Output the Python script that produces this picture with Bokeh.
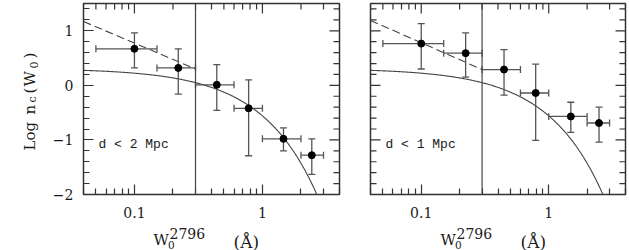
import numpy as np
from bokeh.plotting import figure
from bokeh.layouts import row, column
from bokeh.models import FixedTicker, Span, Label, CustomJSTickFormatter
from bokeh.embed import file_html
from bokeh.resources import INLINE

# ---------------- data ----------------
bin_lo = [0.05, 0.15, 0.30, 0.60, 1.00, 2.00]
bin_hi = [0.15, 0.30, 0.60, 1.00, 2.00, 3.00]

w_2mpc = [0.10, 0.22, 0.44, 0.78, 1.46, 2.43]
logn_2mpc = [0.67, 0.32, 0.01, -0.42, -0.98, -1.28]
logn_2mpc_lo = [0.32, -0.16, -0.46, -1.29, -1.20, -1.63]
logn_2mpc_hi = [0.96, 0.67, 0.38, 0.10, -0.78, -0.98]

w_1mpc = [0.10, 0.223, 0.446, 0.79, 1.49, 2.48]
logn_1mpc = [0.765, 0.59, 0.29, -0.14, -0.57, -0.69]
logn_1mpc_lo = [0.30, 0.15, -0.18, -1.01, -0.86, -1.04]
logn_1mpc_hi = [1.13, 0.96, 0.655, 0.39, -0.31, -0.40]

# exponential fit:  log n_c = log N* - W / (W* ln 10)
fit_logn0 = 0.31
fit_wstar = 0.50
# power-law extension below the completeness limit
dash_w = [0.04, 0.30]
dash_logn_2mpc = [1.17, 0.30]
dash_logn_1mpc = [1.19, 0.29]
w_limit = 0.3

x_major = [0.1, 1]
x_minor = [0.04, 0.05, 0.06, 0.07, 0.08, 0.09,
           0.2, 0.3, 0.4, 0.5, 0.6, 0.7, 0.8, 0.9, 2, 3, 4]
y_major = [-2, -1, 0, 1]
y_minor = [-1.8, -1.6, -1.4, -1.2, -0.8, -0.6, -0.4, -0.2,
           0.2, 0.4, 0.6, 0.8, 1.2, 1.4]

inset_2mpc = "d < 2 Mpc"
inset_1mpc = "d < 1 Mpc"

# ---------------- layout / style ----------------
X_RANGE = (0.04, 4.0)
Y_RANGE = (-2.0, 1.5)
H_TOP = 225          # height of the panel row
H_XLAB = 25          # strip carrying the x-axis titles
YLAB_W = 40          # strip carrying the y-axis title
FT = 3
FB = H_TOP - 194
FRAME = "#333333"
BAR = "#555555"
CURVE = "#444444"
TXT = "#1a1a1a"
SERIF = "DejaVu Serif"
MAJ, MIN = 10, 6


def canvas_label(p, text, cx, cy, size, font=SERIF, angle=0.0):
    p.add_layout(Label(x=cx, y=cy, x_units="canvas", y_units="canvas",
                       text=text, angle=angle, text_font=font,
                       text_font_size=size, text_color=TXT,
                       text_baseline="alphabetic", text_align="left"))


def text_strip(width, height):
    s = figure(width=width, height=height, output_backend="svg",
               toolbar_location=None, x_axis_location=None, y_axis_location=None,
               min_border=0, x_range=(0, 1), y_range=(0, 1))
    s.outline_line_color = None
    s.xgrid.visible = False
    s.ygrid.visible = False
    return s


def mirror_ticks(p, sides):
    # inward ticks on frame sides that carry no labels
    for side in sides:
        pairs = ((x_major, MAJ), (x_minor, MIN)) if side == "top" else ((y_major, MAJ), (y_minor, MIN))
        for ticks, ln in pairs:
            if side == "top":
                xs, ys, ang = ticks, [Y_RANGE[1]] * len(ticks), np.pi / 2
            elif side == "right":
                xs, ys, ang = [X_RANGE[1]] * len(ticks), ticks, 0.0
            else:
                xs, ys, ang = [X_RANGE[0]] * len(ticks), ticks, 0.0
            p.scatter(x=xs, y=ys, marker="dash", angle=ang, size=2 * ln,
                      line_color=FRAME, line_width=1.2)


def make_panel(width, fl, fr, w, logn, lo, hi, dash_logn, inset, show_ylab):
    p = figure(width=width, height=H_TOP, x_axis_type="log",
               x_range=X_RANGE, y_range=Y_RANGE,
               y_axis_location="left" if show_ylab else None,
               output_backend="svg", toolbar_location=None,
               min_border_left=fl, min_border_right=fr,
               min_border_top=FT, min_border_bottom=FB)
    p.xgrid.visible = False
    p.ygrid.visible = False
    p.outline_line_color = FRAME
    p.outline_line_width = 1.5

    for ax in p.xaxis:
        ax.ticker = FixedTicker(ticks=x_major, minor_ticks=x_minor)
        ax.formatter = CustomJSTickFormatter(
            code="return tick >= 1 ? tick.toFixed(0) : tick.toFixed(1);")
        ax.major_label_standoff = 12
    for ax in p.yaxis:
        ax.ticker = FixedTicker(ticks=y_major, minor_ticks=y_minor)
        ax.formatter = CustomJSTickFormatter(
            code="return tick < 0 ? '\u2212' + (-tick).toFixed(0) : tick.toFixed(0);")
        ax.major_label_standoff = 10
    for ax in p.axis:
        ax.axis_line_color = None
        ax.major_tick_in = MAJ
        ax.major_tick_out = 0
        ax.minor_tick_in = MIN
        ax.minor_tick_out = 0
        ax.major_tick_line_color = FRAME
        ax.minor_tick_line_color = FRAME
        ax.major_tick_line_width = 1.2
        ax.minor_tick_line_width = 1.2
        ax.major_label_text_font = SERIF
        ax.major_label_text_font_size = "14px"
        ax.major_label_text_color = TXT
        ax.axis_label = None
    mirror_ticks(p, ["top", "right"] + ([] if show_ylab else ["left"]))

    # model curves
    wf = np.geomspace(X_RANGE[0], X_RANGE[1], 300)
    p.line(wf, fit_logn0 - wf / (fit_wstar * np.log(10)),
           line_color=CURVE, line_width=1.1)
    p.line(dash_w, dash_logn, line_color=CURVE, line_width=1.1, line_dash="8 4")
    p.add_layout(Span(location=w_limit, dimension="height",
                      line_color=CURVE, line_width=1.2))

    # error bars
    p.segment(x0=bin_lo, y0=logn, x1=bin_hi, y1=logn, line_color=BAR, line_width=1.3)
    p.segment(x0=w, y0=lo, x1=w, y1=hi, line_color=BAR, line_width=1.3)
    p.scatter(x=bin_lo + bin_hi, y=logn + logn, marker="dash", angle=np.pi / 2,
              size=7, line_color=BAR, line_width=1.3)
    p.scatter(x=w + w, y=lo + hi, marker="dash", size=7,
              line_color=BAR, line_width=1.3)
    p.scatter(w, logn, size=7, color="black")

    # inset text
    canvas_label(p, inset, fl + 15, 144, "13px", font="Liberation Mono")
    return p


LW = 355 - YLAB_W
p1 = make_panel(LW, 83 - YLAB_W, 16, w_2mpc, logn_2mpc, logn_2mpc_lo, logn_2mpc_hi,
                dash_logn_2mpc, inset_2mpc, True)
p2 = make_panel(274, 15, 4, w_1mpc, logn_1mpc, logn_1mpc_lo, logn_1mpc_hi,
                dash_logn_1mpc, inset_1mpc, False)

# y axis title  Log n_c(W_0)
ylab = text_strip(YLAB_W, H_TOP)
for t, bx, sy, fs in [("Log", 29, 150, "15px"), ("n", 29, 114, "15px"),
                      ("c", 32, 102, "11px"), ("(", 29, 93, "15px"),
                      ("W", 29, 86, "15px"), ("0", 33, 68, "11px"),
                      (")", 29, 58, "15px")]:
    canvas_label(ylab, t, bx, sy, fs, angle=np.pi / 2)

# x axis titles  W_0^2796 (Å), one under each panel
xlab = text_strip(629, H_XLAB)
for frame_left in (83, 370):
    for t, rx, by, fs in [("W", 70, 239.5, "15px"), ("0", 84.5, 244, "10.5px"),
                          ("2796", 86, 232.5, "14px"), ("(Å)", 150, 241, "17px")]:
        canvas_label(xlab, t, frame_left + rx, by - H_TOP, fs)

layout = column(row(ylab, p1, p2), xlab)
open("out.html", "w").write(file_html(layout, INLINE))
